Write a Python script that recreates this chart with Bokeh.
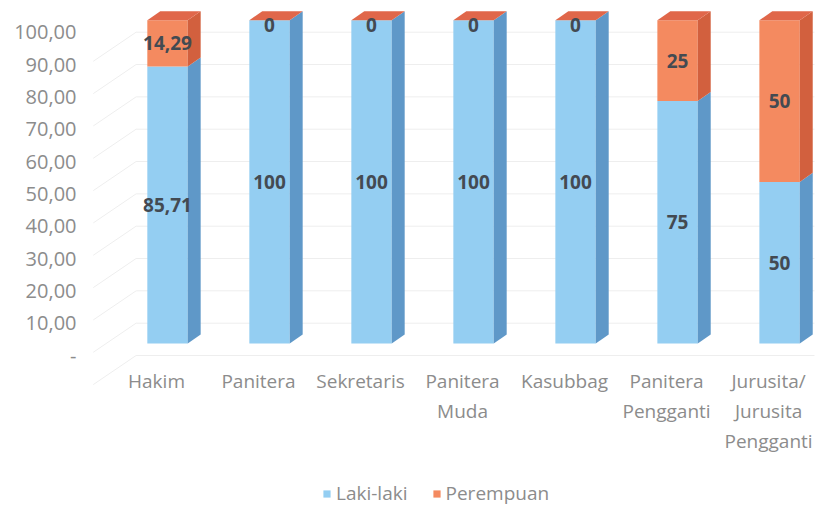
from bokeh.plotting import figure
from bokeh.models import ColumnDataSource, FixedTicker, Legend, LegendItem
from bokeh.embed import file_html
from bokeh.resources import INLINE

# ---- data ----
categories = ["Hakim", "Panitera", "Sekretaris", "Panitera\nMuda", "Kasubbag",
              "Panitera\nPengganti", "Jurusita/\nJurusita\nPengganti"]
laki_laki = [85.71, 100, 100, 100, 100, 75, 50]
perempuan = [14.29, 0, 0, 0, 0, 25, 50]
y_ticks = [0, 10, 20, 30, 40, 50, 60, 70, 80, 90, 100]
series_names = ["Laki-laki", "Perempuan"]

# ---- style (3D projection) ----
FX, HW, DX = 0.108, 0.198, 0.127
FY0, DY = 3.7, 2.8
FONT = "Open Sans"
TXT = "#8c8c8c"
CAT_Y, CAT_GAP = -8.0, 30          # first category-label line (data y) and line gap (px)
colors = {
    "Laki-laki": ("#94cef2", "#5f98c8", "#7fb6e0"),
    "Perempuan": ("#f48a60", "#d2603e", "#e0674a"),
}


def fmt(v):
    s = f"{v:.2f}".rstrip("0").rstrip(".")
    return s.replace(".", ",")


p = figure(frame_width=726, frame_height=503,
           x_range=(-0.647, 6.47), y_range=(-48.25, 107.33),
           x_axis_location=None,
           output_backend="svg", toolbar_location=None,
           min_border_left=90, min_border_right=0, min_border_top=8, min_border_bottom=0)
p.outline_line_color = None
p.xgrid.grid_line_color = None
p.ygrid.grid_line_color = None
p.background_fill_color = "white"

# faint 3D gridlines (side wall diagonal + back wall horizontal)
gx, gy = [], []
for t in y_ticks:
    gx.append([-0.62, -0.2, 6.45])
    gy.append([t - 9, t, t])
p.multi_line(gx, gy, line_color="#eeeeee", line_width=1)

front_renderers = {}
bases = [0] * len(categories)
label_x, label_y, label_t = [], [], []
for name, vals in zip(series_names, [laki_laki, perempuan]):
    fc, sc, tc = colors[name]
    fxs, fys, sxs, sys_, txs, tys = [], [], [], [], [], []
    for i, v in enumerate(vals):
        c = i + FX
        b = FY0 + bases[i]
        t = b + v
        fxs.append([c - HW, c + HW, c + HW, c - HW])
        fys.append([b, b, t, t])
        sxs.append([c + HW, c + HW + DX, c + HW + DX, c + HW])
        sys_.append([b, b + DY, t + DY, t])
        txs.append([c - HW, c + HW, c + HW + DX, c - HW + DX])
        tys.append([t, t, t + DY, t + DY])
        label_x.append(c)
        label_y.append(b + v / 2 if v > 0 else t - 1.5)
        label_t.append(fmt(v))
        bases[i] += v
    front_renderers[name] = p.patches(fxs, fys, fill_color=fc, line_color=None)
    p.patches(sxs, sys_, fill_color=sc, line_color=None)
    if name == series_names[-1]:
        p.patches(txs, tys, fill_color=tc, line_color=None)

lab_src = ColumnDataSource(dict(x=label_x, y=label_y, t=label_t))
p.text("x", "y", text="t", source=lab_src, text_align="center", text_baseline="middle",
       text_font={"value": FONT}, text_font_size="19px", text_font_style="bold",
       text_color="#434a52")

# category labels (one text per line, centred under each category)
cx, cy, ct, co = [], [], [], []
for i, c in enumerate(categories):
    for k, line in enumerate(c.split("\n")):
        cx.append(i)
        cy.append(CAT_Y)
        ct.append(line)
        co.append(k * CAT_GAP)
cat_src = ColumnDataSource(dict(x=cx, y=cy, t=ct, o=co))
p.text("x", "y", text="t", y_offset="o", source=cat_src, text_align="center",
       text_baseline="middle", text_font={"value": FONT}, text_font_size="19px",
       text_color=TXT)

# y axis
p.yaxis.ticker = FixedTicker(ticks=y_ticks)
p.yaxis.major_label_overrides = {t: ("-" if t == 0 else f"{t:.2f}".replace(".", ",")) for t in y_ticks}
p.yaxis.axis_line_color = None
p.yaxis.major_tick_line_color = None
p.yaxis.minor_tick_line_color = None
p.yaxis.major_label_standoff = 8
p.yaxis.major_label_text_font = FONT
p.yaxis.major_label_text_font_size = "20px"
p.yaxis.major_label_text_color = TXT

legend = Legend(items=[LegendItem(label=n, renderers=[front_renderers[n]]) for n in series_names],
                orientation="horizontal", location=(232, 5))
legend.border_line_color = None
legend.background_fill_alpha = 0
legend.label_text_font = FONT
legend.label_text_font_size = "19px"
legend.label_text_color = TXT
legend.glyph_width = 9
legend.glyph_height = 9
legend.label_standoff = 5
legend.spacing = 24
legend.padding = 0
legend.margin = 0
p.add_layout(legend)

open("out.html", "w").write(file_html(p, INLINE))
